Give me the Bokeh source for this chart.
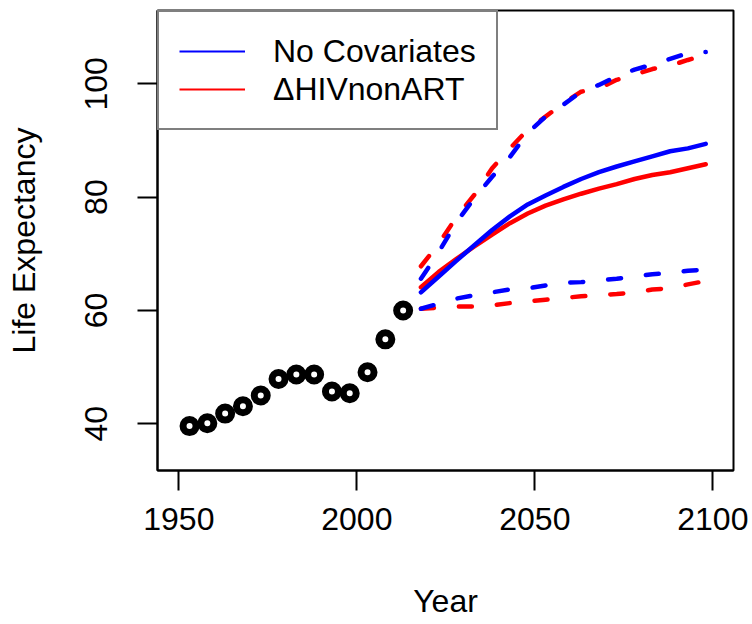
from bokeh.plotting import figure
from bokeh.models import Range1d, FixedTicker, Legend, LegendItem, ColumnDataSource
from bokeh.embed import file_html
from bokeh.resources import INLINE

# ---- data ----
obs_years = [1953, 1958, 1963, 1968, 1973, 1978, 1983, 1988, 1993, 1998, 2003, 2008, 2013]
obs_le = [39.6, 40.1, 41.8, 43.1, 45.0, 47.9, 48.7, 48.7, 45.7, 45.4, 49.1, 54.9, 60.0]

proj_years = [2018, 2023, 2028, 2033, 2038, 2043, 2048, 2053, 2058, 2063, 2068, 2073, 2078, 2083, 2088, 2093, 2098]

nocov_median = [63.2, 66.0, 68.8, 71.5, 74.2, 76.6, 78.7, 80.3, 81.8, 83.2, 84.4, 85.4, 86.3, 87.2, 88.1, 88.6, 89.4]
nocov_upper = [65.6, 70.3, 75.6, 79.8, 83.6, 87.1, 91.3, 94.2, 96.3, 98.6, 99.8, 101.3, 102.5, 103.4, 104.4, 105.4, 105.6]
nocov_lower = [60.3, 61.2, 62.1, 62.7, 63.2, 63.7, 63.9, 64.4, 64.9, 65.0, 65.3, 65.6, 66.0, 66.4, 66.6, 67.0, 67.2]

hiv_median = [64.1, 66.8, 69.1, 71.3, 73.4, 75.4, 77.1, 78.5, 79.6, 80.6, 81.5, 82.3, 83.2, 83.9, 84.4, 85.1, 85.8]
hiv_upper = [67.8, 71.8, 76.5, 80.4, 85.1, 88.6, 91.9, 94.2, 96.6, 98.6, 99.2, 100.7, 101.6, 102.6, 103.2, 104.2, 105.1]
hiv_lower = [60.3, 60.5, 60.7, 60.7, 60.9, 61.3, 61.6, 61.9, 62.2, 62.5, 62.7, 62.9, 63.2, 63.7, 63.9, 64.6, 65.2]

x_ticks = [1950, 2000, 2050, 2100]
y_ticks = [40, 60, 80, 100]
series_names = ["No Covariates", "\u0394HIVnonART"]
series_colors = ["#0000FF", "#FF0000"]

FONT = "Liberation Sans"
FS = "32px"

p = figure(width=752, height=624, output_backend="svg", toolbar_location=None,
           x_range=Range1d(1944.0, 2105.8), y_range=Range1d(31.76, 112.93),
           min_border_left=157, min_border_right=19, min_border_top=10, min_border_bottom=154)
p.grid.visible = False
p.outline_line_color = "black"
p.outline_line_width = 2
p.background_fill_color = "white"
p.border_fill_color = "white"

# axes
for ax in (p.xaxis[0], p.yaxis[0]):
    ax.major_tick_out = 20
    ax.major_tick_in = 0
    ax.minor_tick_line_color = None
    ax.major_tick_line_width = 2
    ax.axis_line_width = 2
    ax.major_tick_line_color = "black"
    ax.axis_line_color = "black"
    ax.major_label_text_font = FONT
    ax.major_label_text_font_size = FS
    ax.major_label_text_color = "black"
    ax.axis_label_text_font = FONT
    ax.axis_label_text_font_size = FS
    ax.axis_label_text_font_style = "normal"
    ax.axis_label_text_color = "black"

p.xaxis.ticker = FixedTicker(ticks=x_ticks)
p.yaxis.ticker = FixedTicker(ticks=y_ticks)
p.xaxis.axis_label = "Year"
p.yaxis.axis_label = "Life Expectancy"
p.yaxis.major_label_orientation = "vertical"
p.xaxis.major_label_standoff = 17
p.yaxis.major_label_standoff = 30
p.xaxis.axis_label_standoff = 50
p.yaxis.axis_label_standoff = 41

# observed points
p.scatter(obs_years, obs_le, marker="circle", size=13, line_width=7,
          line_color="black", fill_color="white")

LW = 4.5
DASH = "13 25"
# red first, blue on top
for med, up, lo, col in [(hiv_median, hiv_upper, hiv_lower, series_colors[1]),
                         (nocov_median, nocov_upper, nocov_lower, series_colors[0])]:
    p.line(proj_years, up, line_color=col, line_width=LW, line_dash=DASH, line_cap="round", line_join="round")
    p.line(proj_years, lo, line_color=col, line_width=LW, line_dash=DASH, line_cap="round", line_join="round")
    p.line(proj_years, med, line_color=col, line_width=LW, line_cap="round", line_join="round")

# legend proxies (NaN data: nothing drawn in the plot)
nan = float("nan")
items = []
for name, col in zip(series_names, series_colors):
    src = ColumnDataSource(data=dict(x=[nan], y=[nan]))
    r = p.line("x", "y", source=src, line_color=col, line_width=2)
    items.append(LegendItem(label=name, renderers=[r]))

legend = Legend(items=items, location="top_left", margin=0, padding=20,
                border_line_color="black", border_line_width=2,
                background_fill_color="white", background_fill_alpha=1.0,
                label_text_font=FONT, label_text_font_size=FS, label_text_color="black",
                glyph_width=66, glyph_height=38, label_height=37, spacing=0,
                label_standoff=28)
p.add_layout(legend, "center")

open("out.html", "w").write(file_html(p, INLINE))
